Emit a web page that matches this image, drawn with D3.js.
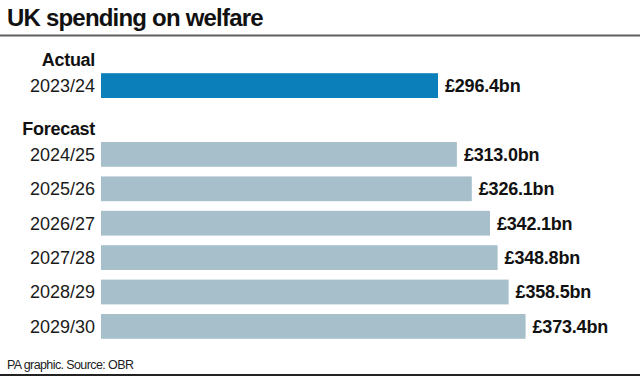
<!DOCTYPE html>
<html>
<head>
<meta charset="utf-8">
<script src="https://cdn.jsdelivr.net/npm/d3@7"></script>
<style>
  body { margin: 0; background: #fff; }
  svg { display: block; font-family: 'Liberation Sans', Arial, sans-serif; }
</style>
</head>
<body>
<div id="chart"></div>
<script>
const title = 'UK spending on welfare'
const source = 'PA graphic. Source: OBR'

const actualYears = ['2023/24']
const actualValues = [296.4]
const forecastYears = ['2024/25', '2025/26', '2026/27', '2027/28', '2028/29', '2029/30']
const forecastValues = [313.0, 326.1, 342.1, 348.8, 358.5, 373.4]
const groupLabels = ['Actual', 'Forecast']

const width = 640
const height = 376

const svg = d3
  .select('#chart')
  .append('svg')
  .attr('width', width)
  .attr('height', height)

svg
  .append('text')
  .attr('x', 7)
  .attr('y', 26)
  .attr('font-size', 24)
  .attr('font-weight', 'bold')
  .attr('letter-spacing', -0.8)
  .attr('fill', '#111')
  .text(title)

svg
  .append('line')
  .attr('x1', 0)
  .attr('x2', width)
  .attr('y1', 35.5)
  .attr('y2', 35.5)
  .attr('stroke', '#5f5f5f')
  .attr('stroke-width', 2)

// rows: group header, then its years
const rows = [
  { key: groupLabels[0], header: true },
  ...actualYears.map((d, i) => ({ key: d, value: actualValues[i], actual: true })),
  { key: groupLabels[1], header: true },
  ...forecastYears.map((d, i) => ({ key: d, value: forecastValues[i], actual: false }))
]

const y = d3
  .scaleBand()
  .domain(rows.map(d => d.key))
  .range([34, 343.6])
  .paddingInner(0.28)
  .paddingOuter(0.14)

const x = d3.scaleLinear().domain([0, 400]).range([101, 101 + 1.137 * 400])

const fmt = d => '£' + d3.format('.1f')(d) + 'bn'

const bars = rows.filter(d => !d.header)
const headers = rows.filter(d => d.header)

svg
  .selectAll('rect.bar')
  .data(bars)
  .enter()
  .append('rect')
  .attr('class', 'bar')
  .attr('x', x(0))
  .attr('y', d => y(d.key))
  .attr('width', d => x(d.value) - x(0))
  .attr('height', y.bandwidth())
  .attr('fill', d => (d.actual ? '#0a7fba' : '#a7bfca'))

svg
  .selectAll('text.cat')
  .data(bars)
  .enter()
  .append('text')
  .attr('class', 'cat')
  .attr('x', 95)
  .attr('y', d => y(d.key) + y.bandwidth() / 2)
  .attr('dy', '0.36em')
  .attr('text-anchor', 'end')
  .attr('font-size', 18)
  .attr('fill', '#1a1a1a')
  .text(d => d.key)

svg
  .selectAll('text.val')
  .data(bars)
  .enter()
  .append('text')
  .attr('class', 'val')
  .attr('x', d => x(d.value) + 7)
  .attr('y', d => y(d.key) + y.bandwidth() / 2)
  .attr('dy', '0.36em')
  .attr('font-size', 18)
  .attr('font-weight', 'bold')
  .attr('letter-spacing', -0.2)
  .attr('fill', '#111')
  .text(d => fmt(d.value))

svg
  .selectAll('text.head')
  .data(headers)
  .enter()
  .append('text')
  .attr('class', 'head')
  .attr('x', 95)
  .attr('y', d => y(d.key) + y.bandwidth() + 2.5)
  .attr('text-anchor', 'end')
  .attr('font-size', 18)
  .attr('font-weight', 'bold')
  .attr('letter-spacing', -0.3)
  .attr('fill', '#111')
  .text(d => d.key)

svg
  .append('text')
  .attr('x', 7)
  .attr('y', 369)
  .attr('font-size', 12.5)
  .attr('letter-spacing', -0.6)
  .attr('fill', '#222')
  .text(source)

svg
  .append('line')
  .attr('x1', 0)
  .attr('x2', width)
  .attr('y1', 375)
  .attr('y2', 375)
  .attr('stroke', '#222')
  .attr('stroke-width', 2)
</script>
</body>
</html>
